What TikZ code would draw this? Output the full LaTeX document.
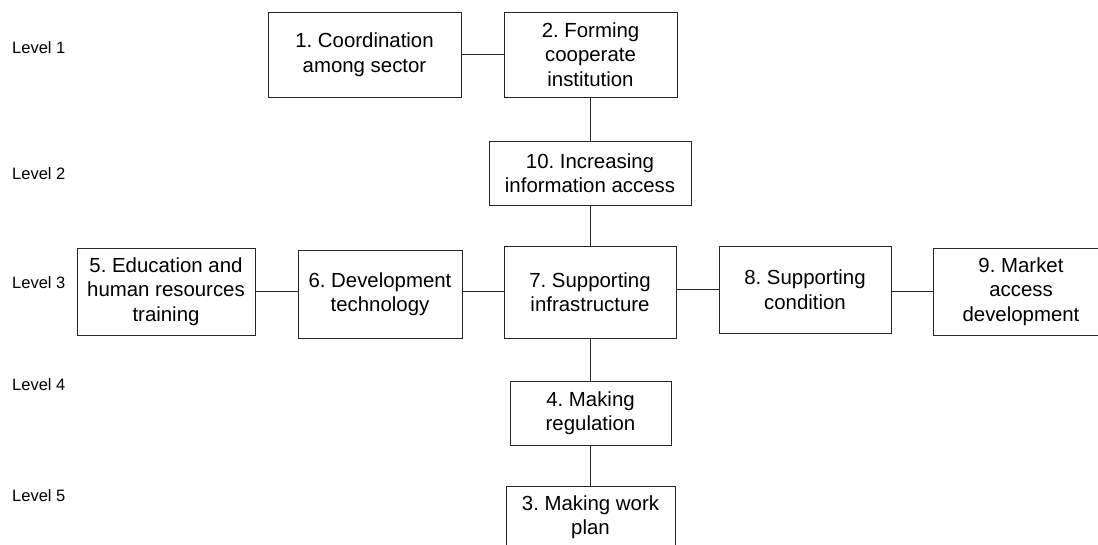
\documentclass[tikz,border=0pt]{standalone}
\usepackage{fontspec}
\setmainfont{Liberation Sans}
\frenchspacing
\begin{document}
\begin{tikzpicture}[x=1pt,y=-1pt,
  stepbox/.style={draw=black!85, line width=0.9pt, rectangle, inner sep=0pt,
    align=center, font=\fontsize{20.4}{24.5}\selectfont, text=black},
  levellabel/.style={anchor=west, inner sep=0pt, font=\fontsize{16.5}{19}\selectfont},
  link/.style={draw=black!85, line width=0.9pt}]
  \useasboundingbox (0,0) rectangle (1098,544);

  % level captions
  \node[levellabel] (L1) at (12,48)  {Level 1};
  \node[levellabel] (L2) at (12,174) {Level 2};
  \node[levellabel] (L3) at (12,283) {Level 3};
  \node[levellabel] (L4) at (12,385) {Level 4};
  \node[levellabel] (L5) at (12,496) {Level 5};

  % boxes
  \node[stepbox, minimum width=193pt, minimum height=85pt] (n1) at (364.5,54.5)
    {1. Coordination\\among sector};
  \node[stepbox, minimum width=173pt, minimum height=85pt] (n2) at (590.5,54.5)
    {2. Forming\\cooperate\\institution};
  \node[stepbox, minimum width=202pt, minimum height=64pt] (n10) at (590,173)
    {10. Increasing\\information access};
  \node[stepbox, minimum width=178pt, minimum height=87pt] (n5) at (166,291.5)
    {5. Education and\\human resources\\training};
  \node[stepbox, minimum width=164pt, minimum height=88pt] (n6) at (380,294)
    {6. Development\\technology};
  \node[stepbox, minimum width=172pt, minimum height=92pt] (n7) at (590,292)
    {7. Supporting\\infrastructure};
  \node[stepbox, minimum width=172pt, minimum height=87pt] (n8) at (805,289.5)
    {8. Supporting\\condition};
  \node[stepbox, minimum width=176pt, minimum height=87pt] (n9) at (1021,291.5)
    {9. Market\\access\\development};
  \node[stepbox, minimum width=161pt, minimum height=64pt] (n4) at (590.5,413)
    {4. Making\\regulation};
  \node[stepbox, minimum width=169pt, minimum height=62pt] (n3) at (590.5,517)
    {3. Making work\\plan};

  % connectors
  \draw[link] (n1.east) -- (n1.east -| n2.west);
  \draw[link] (n2.south -| n10.north) -- (n10.north);
  \draw[link] (n10.south) -- (n10.south |- n7.north);
  \draw[link] (n7.south) -- (n7.south |- n4.north);
  \draw[link] (n4.south -| n3.north) -- (n3.north);
  \draw[link] (n5.east) -- (n5.east -| n6.west);
  \draw[link] (n5.east -| n6.east) -- (n5.east -| n7.west);
  \draw[link] (n8.west -| n7.east) -- (n8.west);
  \draw[link] (n9.west -| n8.east) -- (n9.west);
\end{tikzpicture}
\end{document}
